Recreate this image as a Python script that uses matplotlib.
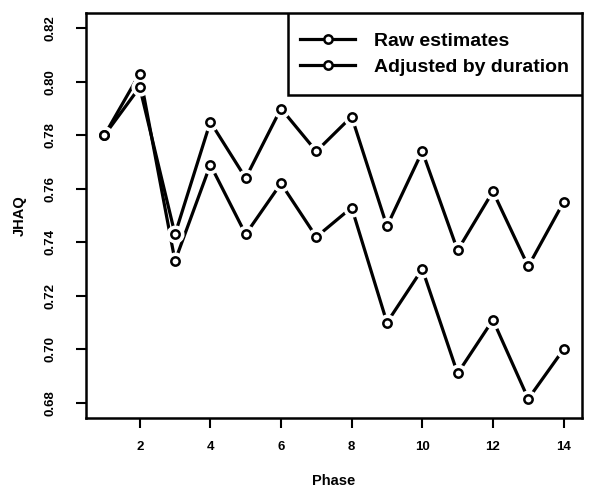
import matplotlib
matplotlib.use("Agg")
import matplotlib.pyplot as plt
from matplotlib.lines import Line2D
from matplotlib.patches import Rectangle

plt.rcParams['font.family'] = ['Liberation Sans', 'DejaVu Sans']

phase = list(range(1, 15))
raw = [0.780, 0.798, 0.743, 0.785, 0.764, 0.790, 0.774, 0.787, 0.746, 0.774, 0.737, 0.759, 0.731, 0.755]
adjusted = [0.780, 0.803, 0.733, 0.769, 0.743, 0.762, 0.742, 0.753, 0.710, 0.730, 0.691, 0.711, 0.6815, 0.700]
labels = ["Raw estimates", "Adjusted by duration"]
yticks = [0.68, 0.70, 0.72, 0.74, 0.76, 0.78, 0.80, 0.82]
xticks = [2, 4, 6, 8, 10, 12, 14]

fig = plt.figure(figsize=(6.10, 4.91), dpi=100)
ax = fig.add_axes([0.141, 0.149, 0.813, 0.824])

for series in (raw, adjusted):
    ax.plot(phase, series, color='black', lw=2.3, zorder=2)
    # gap around points, like R type="b"
    ax.plot(phase, series, ls='none', marker='o', ms=12, mfc='white', mec='white', zorder=3)
    ax.plot(phase, series, ls='none', marker='o', ms=6, mfc='white', mec='black', mew=1.8, zorder=4)

ax.set_xlim(0.48, 14.52)
ax.set_ylim(0.6744, 0.8256)
ax.set_xticks(xticks)
ax.set_yticks(yticks)
ax.set_xticklabels([str(t) for t in xticks], fontsize=9.5, fontweight='bold')
ax.set_yticklabels(["%.2f" % t for t in yticks], fontsize=9.5, fontweight='bold',
                   rotation=90, va='center')
ax.tick_params(direction='out', length=7, width=1.5)
ax.tick_params(axis='x', pad=10)
ax.tick_params(axis='y', pad=14)
for sp in ax.spines.values():
    sp.set_linewidth(1.8)

ax.set_xlabel("Phase", fontsize=10.5, fontweight='bold', labelpad=15)
ax.set_ylabel("JHAQ", fontsize=10.5, fontweight='bold', labelpad=13)

# legend box: taller than the content, so drawn by hand
box = Rectangle((0.407, 0.797), 0.593, 0.203, transform=ax.transAxes,
                fc='white', ec='black', lw=1.8, zorder=5)
ax.add_patch(box)
handles = [Line2D([], [], color='black', lw=2.3, marker='o', ms=6, mfc='white',
                  mec='black', mew=1.8) for _ in labels]
leg = ax.legend(handles, labels, loc='center', bbox_to_anchor=(0.7035, 0.8985),
                fontsize=14, frameon=False, handlelength=2.8, handletextpad=1.0,
                borderpad=0.3, labelspacing=0.42)
leg.set_zorder(6)
for t in leg.get_texts():
    t.set_fontweight('bold')

fig.savefig("out.png", dpi=100)
